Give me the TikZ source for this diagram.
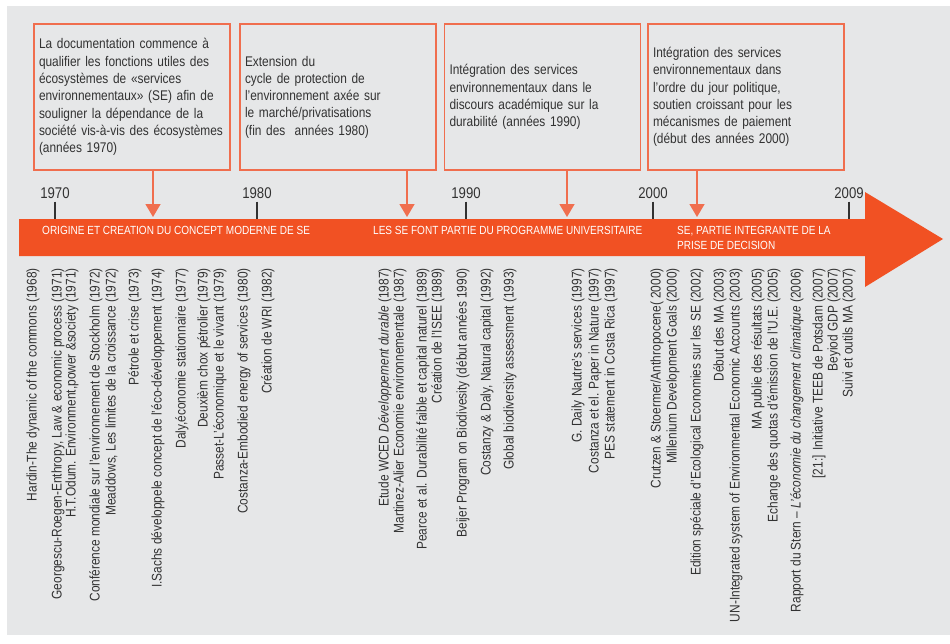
\documentclass[tikz,border=0pt]{standalone}
\usepackage{fontspec}
\setmainfont{Liberation Sans}[FakeStretch=0.85]
\usetikzlibrary{arrows.meta}
\definecolor{bggrey}{RGB}{230,231,232}
\definecolor{seorange}{RGB}{241,81,35}
\definecolor{boxorange}{RGB}{240,110,78}
\definecolor{inkgrey}{RGB}{50,50,50}

\begin{document}
\begin{tikzpicture}[x=1pt,y=-1pt,
    infobox/.style={draw=boxorange,line width=1.2pt,text width=186pt,inner xsep=5pt,inner ysep=8pt,minimum height=146pt,align=left,text=inkgrey,font=\fontsize{14}{17.3}\selectfont},
    pointer/.style={boxorange,line width=1.5pt,-{Triangle[width=15pt,length=13pt]}},
    year/.style={text=inkgrey,inner sep=3pt,font=\fontsize{15.5}{18}\selectfont},
    tick/.style={inkgrey,line width=1.2pt},
    phase/.style={text=white,anchor=base west,inner sep=0pt,align=left,font=\fontsize{11.8}{15.5}\selectfont},
    event/.style={text=inkgrey,rotate=90,anchor=east,inner sep=0pt,font=\fontsize{14}{16}\selectfont}]
    \useasboundingbox (0,0) rectangle (950,643);
    \fill[bggrey] (7,6) rectangle (950,635);

    % the time arrow
    \fill[seorange] (19,219) -- (865,219) -- (865,192) -- (943,239) -- (865,287) -- (865,256) -- (19,256) -- cycle;
    \node[phase] (p1) at (42,234) {ORIGINE ET CREATION DU CONCEPT MODERNE DE SE};
    \node[phase] (p2) at (373,234) {LES SE FONT PARTIE DU PROGRAMME UNIVERSITAIRE};
    \node[phase] (p3) at (677,249.5) {SE, PARTIE INTEGRANTE DE LA\\PRISE DE DECISION};

    % decades
    \foreach \yr/\x in {1970/55,1980/257,1990/466,2000/653,2009/849} {
        \node[year] (y\yr) at (\x,193) {\yr};
        \coordinate (k\yr) at (\x,219);
        \draw[tick] (y\yr.south) -- (k\yr);
    }

    % boxes
    \node[infobox] (b1) at (132,97) {La documentation commence à\\qualifier les fonctions utiles des\\écosystèmes de «services\\environnementaux» (SE) afin de\\souligner la dépendance de la\\société vis-à-vis des écosystèmes\\(années 1970)};
    \node[infobox] (b2) at (338,97) {Extension du\\cycle de protection de\\l’environnement axée sur\\le marché/privatisations\\(fin des~ années 1980)};
    \node[infobox] (b3) at (542.5,97) {Intégration des services\\environnementaux dans le\\discours académique sur la\\durabilité (années 1990)};
    \node[infobox] (b4) at (746,97) {Intégration des services\\environnementaux dans\\l’ordre du jour politique,\\soutien croissant pour les\\mécanismes de paiement\\(début des années 2000)};
    \coordinate (a1) at (153,217);
    \coordinate (a2) at (407,217);
    \coordinate (a3) at (567,217);
    \coordinate (a4) at (697,217);
    \foreach \i in {1,...,4}
        \draw[pointer] (b\i.south -| a\i) -- (a\i);

    % events
    \foreach \x/\txt in {
        33/{Hardin-The dynamic of the commons (1968)},
        58/{Georgescu-Roegen-Enthropy, Law \& economic process (1971)},
        72/{H.T.Odum. Environment,power \&society (1971)},
        96/{Conférence mondiale sur l’environnement de Stockholm (1972)},
        112/{Meaddows, Les limites de la croissance (1972)},
        135/{Pétrole et crise (1973)},
        158/{I.Sachs développele concept de l’éco-développement (1974)},
        182/{Daly,économie stationnaire (1977)},
        204/{Deuxièm chox pétrolier (1979)},
        220/{Passet-L’économique et le vivant (1979)},
        244/{Costanza-Embodied energy of services (1980)},
        268/{Création de WRI (1982)},
        385/{Etude WCED \textit{Développement durable} (1987)},
        400/{Martinez-Alier Economie environnementale (1987)},
        423/{Pearce et al. Durabilité faible et capital naturel (1989)},
        438/{Création de l’ISEE (1989)},
        463/{Beijer Program on Biodivesity (début années 1990)},
        487/{Costanzy \& Daly, Natural capital (1992)},
        510/{Global biodiversity assessment (1993)},
        578/{G. Daily Nautre’s services (1997)},
        595/{Costanza et el. Paper in Nature (1997)},
        611/{PES statement in Costa Rica (1997)},
        657/{Crutzen \& Stoermer/Anthropocene( 2000)},
        673/{Millenium Development Goals (2000)},
        697/{Edition spéciale d’Ecological Economies sur les SE (2002)},
        720/{Début des MA (2003)},
        736/{UN-Integrated system of Environmental Economic Accounts (2003)},
        758/{MA publie des résultats (2005)},
        774/{Echange des quotas d’émission de l’U.E. (2005)},
        797/{Rapport du Stern – \textit{L’économie du changement climatique} (2006)},
        819/{[21:] Initiative TEEB de Potsdam (2007)},
        834/{Beyiod GDP (2007)},
        849/{Suivi et outils MA (2007)}}
        \node[event] (e\x) at (\x,268) {\txt};
\end{tikzpicture}
\end{document}
